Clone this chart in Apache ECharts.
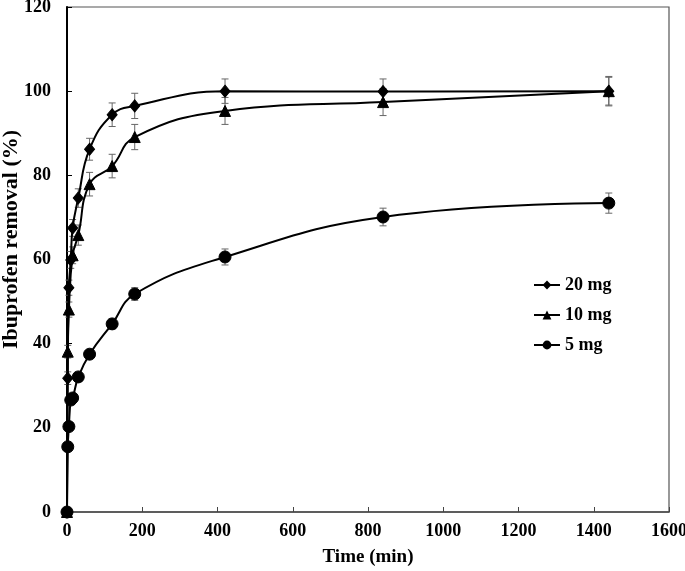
<!DOCTYPE html>
<html>
<head>
<meta charset="utf-8">
<script src="https://cdn.jsdelivr.net/npm/echarts@6/dist/echarts.min.js"></script>
<style>html,body{margin:0;padding:0;background:#fff;}#c{width:685px;height:571px;}</style>
</head>
<body>
<div id="c"></div>
<script>
// Data
const times20 = [0, 2, 5, 10, 15, 30, 60, 120, 180, 420, 840, 1440];
const vals20  = [0, 31.8, 53.3, 59.9, 67.5, 74.6, 86.2, 94.4, 96.5, 100.0, 99.9, 100.0];
const err20   = [0, 1.5, 1.8, 2.0, 2.0, 2.2, 2.6, 2.8, 3.0, 2.9, 3.0, 3.5];

const times10 = [0, 2, 5, 15, 30, 60, 120, 180, 420, 840, 1440];
const vals10  = [0, 38.1, 48.1, 61.0, 65.8, 77.9, 82.2, 89.1, 95.3, 97.4, 100.0];
const err10   = [0, 1.5, 1.8, 2.0, 2.4, 2.8, 2.8, 3.0, 3.2, 3.2, 3.3];

const times5  = [0, 2, 5, 10, 15, 30, 60, 120, 180, 420, 840, 1440];
const vals5   = [0, 15.5, 20.3, 26.6, 27.1, 32.1, 37.5, 44.7, 51.8, 60.6, 70.1, 73.4];
const err5    = [0, 0.8, 0.8, 1.0, 1.0, 1.0, 1.0, 1.2, 1.5, 1.9, 2.1, 2.4];

const seriesNames = ['20 mg', '10 mg', '5 mg'];
const xTicks = [0, 200, 400, 600, 800, 1000, 1200, 1400, 1600];
const yTicks = [0, 20, 40, 60, 80, 100, 120];

const FONT = '"Liberation Serif", "Times New Roman", serif';

function pts(t, v) { return t.map((x, i) => [x, v[i]]); }
function errs(t, v, e) {
  const out = [];
  t.forEach((x, i) => { if (e[i] > 0) out.push([x, v[i] - e[i], v[i] + e[i]]); });
  return out;
}
function errSeries(data) {
  return {
    type: 'custom',
    silent: true,
    z: 1,
    data: data,
    encode: { x: 0, y: [1, 2] },
    renderItem: function (params, api) {
      const x = api.value(0);
      const lo = api.coord([x, api.value(1)]);
      const hi = api.coord([x, api.value(2)]);
      const w = 3.5;
      const st = { stroke: '#666', lineWidth: 1 };
      return {
        type: 'group',
        children: [
          { type: 'line', shape: { x1: lo[0], y1: lo[1], x2: hi[0], y2: hi[1] }, style: st },
          { type: 'line', shape: { x1: lo[0] - w, y1: lo[1], x2: lo[0] + w, y2: lo[1] }, style: st },
          { type: 'line', shape: { x1: hi[0] - w, y1: hi[1], x2: hi[0] + w, y2: hi[1] }, style: st }
        ]
      };
    }
  };
}
function lineSeries(name, data, symbol, size) {
  return {
    name: name,
    type: 'line',
    data: data,
    smooth: 0.45,
    symbol: symbol,
    symbolSize: size,
    z: 3,
    lineStyle: { color: '#000', width: 2 },
    itemStyle: { color: '#000', borderColor: '#000' }
  };
}

const chart = echarts.init(document.getElementById('c'), null, { renderer: 'canvas' });
chart.setOption({
  animation: false,
  backgroundColor: '#fff',
  grid: { left: 67, right: 16, top: 7, bottom: 59, containLabel: false, outerBoundsMode: 'none', show: true, borderColor: '#555', borderWidth: 1.2, backgroundColor: 'transparent' },
  legend: {
    data: seriesNames.map(n => ({ name: n })),
    orient: 'vertical',
    left: 528,
    top: 271,
    itemGap: 12,
    itemWidth: 26,
    itemHeight: 11,
    textStyle: { fontFamily: FONT, fontWeight: 'bold', fontSize: 18, color: '#000' },
    selectedMode: false
  },
  xAxis: {
    type: 'value',
    min: xTicks[0],
    max: xTicks[xTicks.length - 1],
    interval: 200,
    name: 'Time (min)',
    nameLocation: 'middle',
    nameGap: 36,
    nameMoveOverlap: false,
    nameTextStyle: { fontFamily: FONT, fontWeight: 'bold', fontSize: 19, color: '#000' },
    axisLine: { lineStyle: { color: '#444', width: 1.5 } },
    axisTick: { inside: true, length: 5, lineStyle: { color: '#444', width: 1 } },
    axisLabel: { margin: 10, fontFamily: FONT, fontWeight: 'bold', fontSize: 18, color: '#000', formatter: v => String(v) },
    splitLine: { show: false }
  },
  yAxis: {
    type: 'value',
    min: yTicks[0],
    max: yTicks[yTicks.length - 1],
    interval: 20,
    name: 'Ibuprofen removal (%)',
    nameLocation: 'middle',
    nameGap: 45,
    nameMoveOverlap: false,
    nameRotate: 90,
    nameTextStyle: { fontFamily: FONT, fontWeight: 'bold', fontSize: 22, color: '#000', padding: [0, 0, 0, 40] },
    axisLine: { show: true, lineStyle: { color: '#000', width: 2 } },
    axisTick: { show: true, inside: true, length: 5, lineStyle: { color: '#000', width: 1 } },
    axisLabel: { margin: 16, fontFamily: FONT, fontWeight: 'bold', fontSize: 18, color: '#000', formatter: v => String(v) },
    splitLine: { show: false }
  },
  series: [
    errSeries(errs(times20, vals20, err20)),
    errSeries(errs(times10, vals10, err10)),
    errSeries(errs(times5, vals5, err5)),
    lineSeries(seriesNames[0], pts(times20, vals20), 'diamond', [10, 12]),
    lineSeries(seriesNames[1], pts(times10, vals10), 'triangle', 11),
    lineSeries(seriesNames[2], pts(times5, vals5), 'circle', 12)
  ]
});
</script>
</body>
</html>
